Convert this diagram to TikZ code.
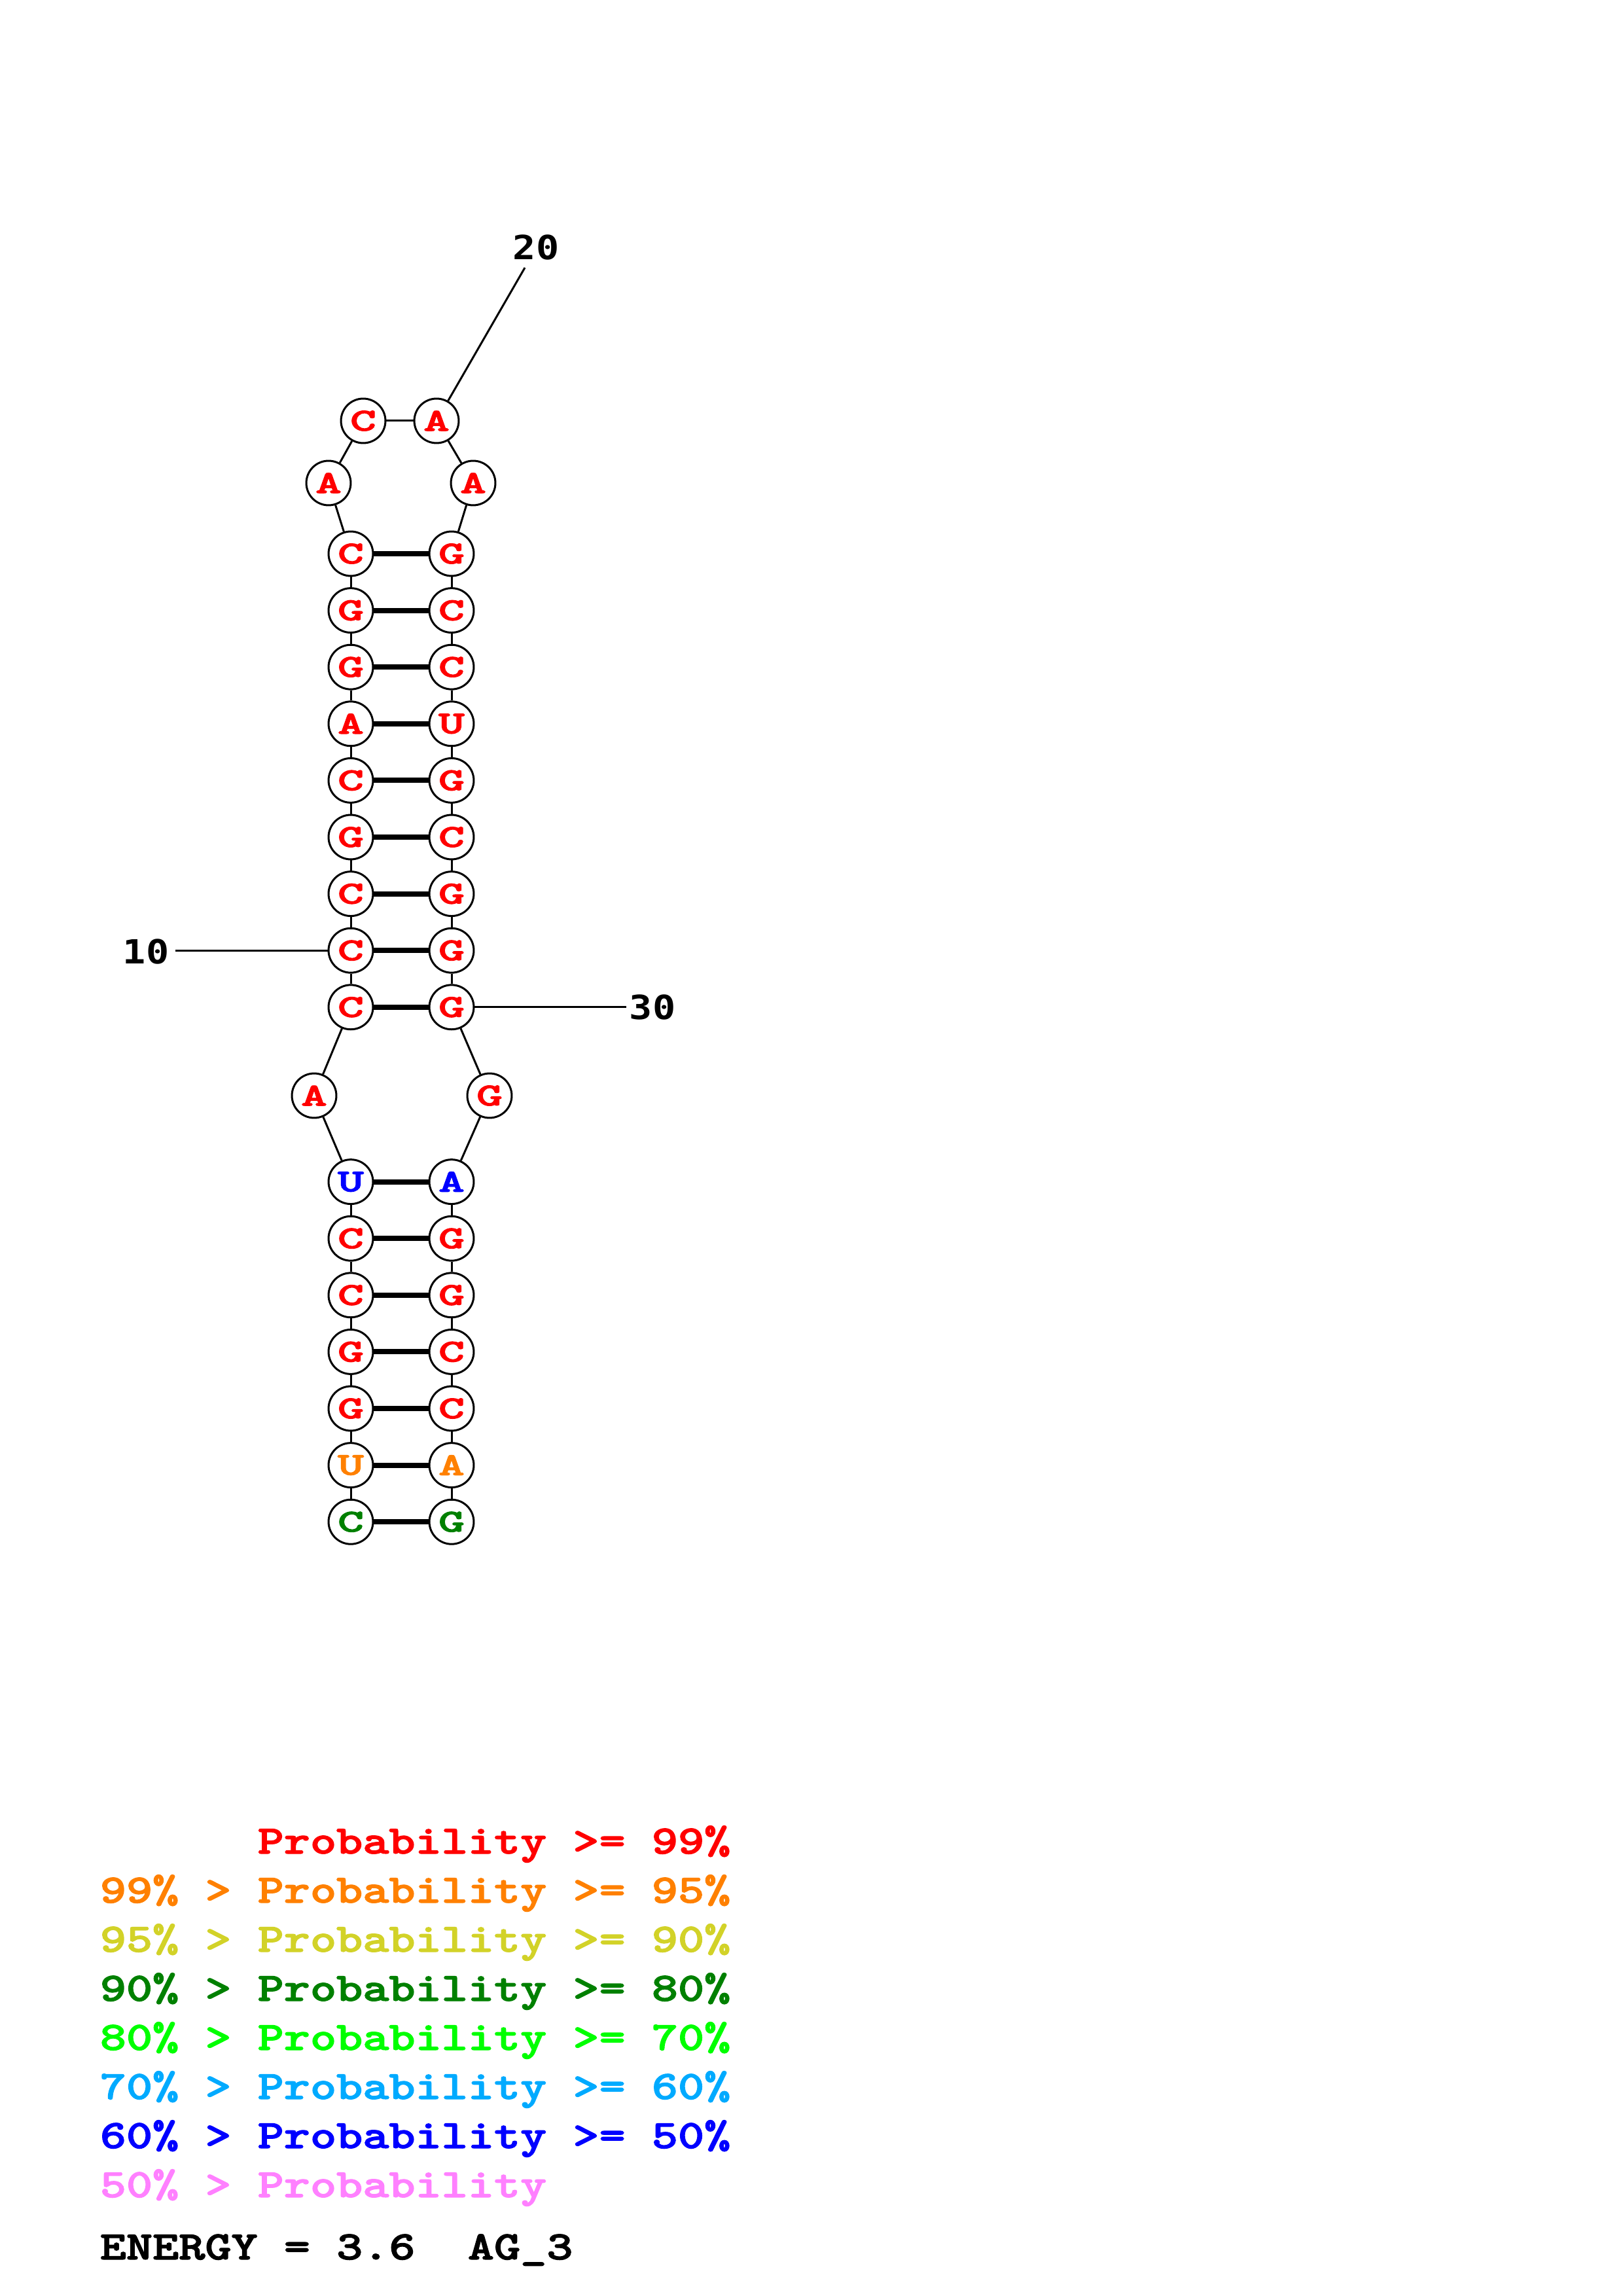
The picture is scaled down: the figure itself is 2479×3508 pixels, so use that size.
\documentclass[tikz,border=0pt]{standalone}
\usepackage{fontspec}
\newfontfamily\dvm{DejaVu Sans Mono}
\newfontfamily\courb{lmmonolt10-bold.otf}[FakeBold=1.8]
\definecolor{pred}{RGB}{255,0,0}
\definecolor{porange}{RGB}{255,128,0}
\definecolor{pyellow}{RGB}{210,210,40}
\definecolor{pdgreen}{RGB}{0,128,0}
\definecolor{pgreen}{RGB}{0,255,0}
\definecolor{plblue}{RGB}{0,170,255}
\definecolor{pblue}{RGB}{0,0,255}
\definecolor{ppink}{RGB}{255,128,255}
\tikzset{
  nt/.style={circle,draw=black,fill=white,line width=0.72pt,inner sep=0pt,minimum size=16.3pt,
    font=\courb\fontsize{11.8}{12}\selectfont},
  bb/.style={line width=0.72pt,black},
  bp/.style={line width=1.9pt,black},
  lbl/.style={inner sep=0pt,font=\dvm\bfseries\fontsize{12.2}{13}\selectfont},
  leg/.style={anchor=base west,inner sep=0pt,font=\courb\fontsize{14.8}{16}\selectfont}
}
\newcommand\nt[5]{\node[nt,text=#5] (n#1) at (#2,#3) {\scalebox{1.55}[1]{#4}};}
\newcommand\legtxt[1]{\scalebox{1.24}[1]{#1}}
\begin{document}
\begin{tikzpicture}[x=0.24pt,y=-0.24pt]
\useasboundingbox (0,0) rectangle (2479,3508);
% nucleotides
\nt{1}{536}{2325.2}{C}{pdgreen}
\nt{2}{536}{2238.6}{U}{porange}
\nt{3}{536}{2152}{G}{pred}
\nt{4}{536}{2065.4}{G}{pred}
\nt{5}{536}{1978.8}{C}{pred}
\nt{6}{536}{1892.2}{C}{pred}
\nt{7}{536}{1805.6}{U}{pblue}
\nt{8}{480}{1674}{A}{pred}
\nt{9}{536}{1538.8}{C}{pred}
\nt{10}{536}{1452.2}{C}{pred}
\nt{11}{536}{1365.6}{C}{pred}
\nt{12}{536}{1279}{G}{pred}
\nt{13}{536}{1192.4}{C}{pred}
\nt{14}{536}{1105.8}{A}{pred}
\nt{15}{536}{1019.2}{G}{pred}
\nt{16}{536}{932.6}{G}{pred}
\nt{17}{536}{846}{C}{pred}
\nt{18}{502}{738}{A}{pred}
\nt{19}{555}{643}{C}{pred}
\nt{20}{667}{643}{A}{pred}
\nt{21}{723}{738}{A}{pred}
\nt{22}{690}{846}{G}{pred}
\nt{23}{690}{932.6}{C}{pred}
\nt{24}{690}{1019.2}{C}{pred}
\nt{25}{690}{1105.8}{U}{pred}
\nt{26}{690}{1192.4}{G}{pred}
\nt{27}{690}{1279}{C}{pred}
\nt{28}{690}{1365.6}{G}{pred}
\nt{29}{690}{1452.2}{G}{pred}
\nt{30}{690}{1538.8}{G}{pred}
\nt{31}{748}{1674}{G}{pred}
\nt{32}{690}{1805.6}{A}{pblue}
\nt{33}{690}{1892.2}{G}{pred}
\nt{34}{690}{1978.8}{G}{pred}
\nt{35}{690}{2065.4}{C}{pred}
\nt{36}{690}{2152}{C}{pred}
\nt{37}{690}{2238.6}{A}{porange}
\nt{38}{690}{2325.2}{G}{pdgreen}
% backbone
\foreach \i [evaluate=\i as \j using int(\i+1)] in {1,...,37}{
  \draw[bb] (n\i) -- (n\j);
}
% base pairs
\foreach \a/\b in {1/38,2/37,3/36,4/35,5/34,6/33,7/32,9/30,10/29,11/28,12/27,13/26,14/25,15/24,16/23,17/22}{
  \draw[bp] (n\a) -- (n\b);
}
% number labels
\node[lbl] (l10) at (223,1454) {\scalebox{1.15}[1]{10}};
\node[lbl] (l20) at (819,378) {\scalebox{1.15}[1]{20}};
\node[lbl] (l30) at (997,1539) {\scalebox{1.15}[1]{30}};
\coordinate (e10) at (268,1452.2);
\coordinate (e20) at (802,409);
\coordinate (e30) at (957,1538.8);
\draw[bb] (e10) -- (n10);
\draw[bb] (e20) -- (n20);
\draw[bb] (e30) -- (n30);
% legend
\node[leg,text=pred] (g1) at (152,2832) {\legtxt{\phantom{99\% > }Probability >= 99\%}};
\node[leg,text=porange] (g2) at (152,2907) {\legtxt{99\% > Probability >= 95\%}};
\node[leg,text=pyellow] (g3) at (152,2982) {\legtxt{95\% > Probability >= 90\%}};
\node[leg,text=pdgreen] (g4) at (152,3057) {\legtxt{90\% > Probability >= 80\%}};
\node[leg,text=pgreen] (g5) at (152,3132) {\legtxt{80\% > Probability >= 70\%}};
\node[leg,text=plblue] (g6) at (152,3207) {\legtxt{70\% > Probability >= 60\%}};
\node[leg,text=pblue] (g7) at (152,3282) {\legtxt{60\% > Probability >= 50\%}};
\node[leg,text=ppink] (g8) at (152,3357) {\legtxt{50\% > Probability}};
\node[leg,text=black] (en) at (152,3452) {\legtxt{ENERGY = 3.6\ \ AG\_3}};
\end{tikzpicture}
\end{document}
